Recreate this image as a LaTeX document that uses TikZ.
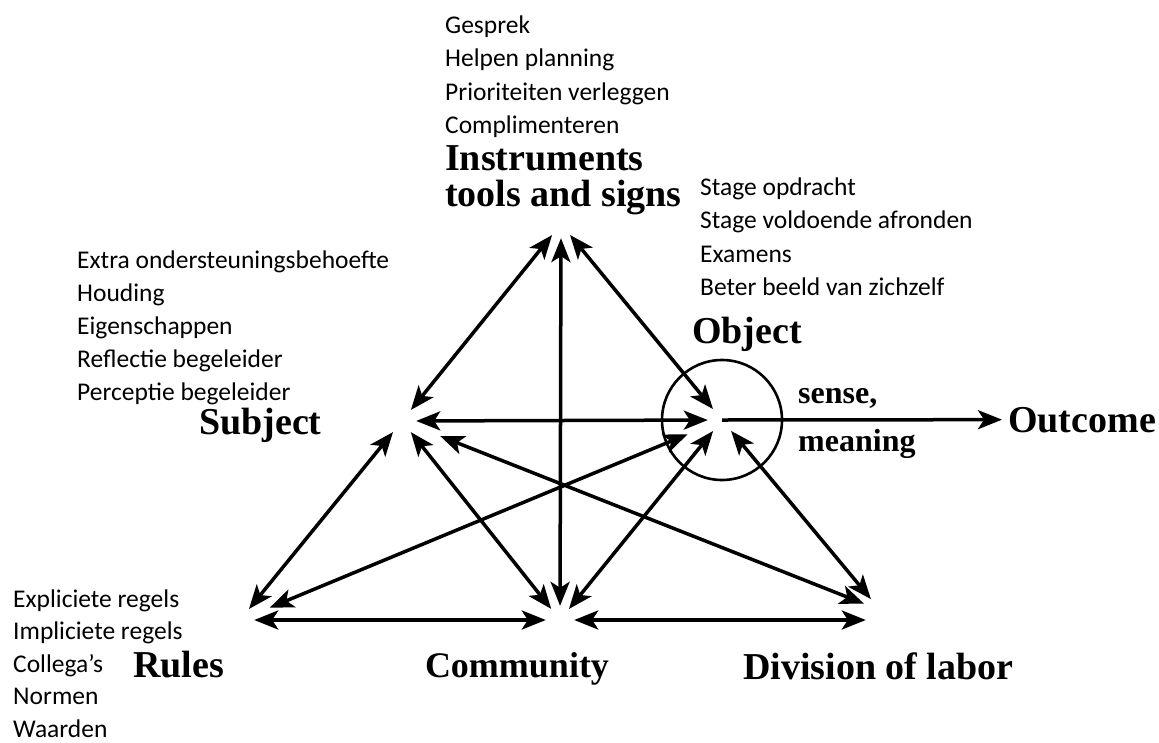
\documentclass[tikz,border=0pt]{standalone}
\usepackage{fontspec}
\setmainfont{Liberation Serif}
\newfontfamily\notefont{Carlito}
\usetikzlibrary{arrows.meta}

\tikzset{
  >={Stealth[length=24pt,width=19pt,inset=6pt]},
  link/.style={<->, line width=3.5pt},
  vertex/.style={circle, minimum size=28pt, inner sep=0pt},
  heading/.style={font=\fontsize{38}{32}\selectfont\bfseries, inner sep=0pt},
  notes/.style={font=\notefont\fontsize{25.5}{30}\selectfont, inner sep=0pt, anchor=base west}
}

\begin{document}
\begin{tikzpicture}[x=1pt,y=-1pt]
        \useasboundingbox (0,0) rectangle (1159,742);

        % Corners of the triangle
        \node[vertex] (I) at (561,224) {};
        \node[vertex] (S) at (402,421) {};
        \node[vertex] (O) at (722,420) {};
        \node[vertex] (R) at (240,620) {};
        \node[vertex] (C) at (560,620) {};
        \node[vertex] (D) at (880,610) {};

        % Headings
        \node[heading, anchor=base west] (instr) at (445,170) {Instruments};
        \node[heading, anchor=base west] (tools) at (445,206) {tools and signs};
        \node[heading, anchor=base west] (subj) at (199,434) {Subject};
        \node[heading, anchor=base west] (obj) at (692,343) {Object};
        \node[heading, anchor=base west, font=\fontsize{32}{32}\selectfont\bfseries] (sense) at (798,403) {sense,};
        \node[heading, anchor=base west, font=\fontsize{32}{32}\selectfont\bfseries] (mean) at (798,451) {meaning};
        \node[heading, anchor=base west] (out) at (1008,432) {Outcome};
        \node[heading, anchor=base west] (rules) at (133,677) {Rules};
        \node[heading, anchor=base, font=\fontsize{36}{32}\selectfont\bfseries] (comm) at (517,677) {Community};
        \node[heading, anchor=base west] (div) at (743,679) {Division of labor};

        % Notes
        \foreach \t [count=\i] in {Gesprek, Helpen planning, Prioriteiten verleggen, Complimenteren}
            \node[notes] (tool\i) at (445, {33+33.5*(\i-1)}) {\t};
        \foreach \t [count=\i] in {Stage opdracht, Stage voldoende afronden, Examens, Beter beeld van zichzelf}
            \node[notes] (goal\i) at (700, {195+33.5*(\i-1)}) {\t};
        \foreach \t [count=\i] in {Extra ondersteuningsbehoefte, Houding, Eigenschappen, Reflectie begeleider, Perceptie begeleider}
            \node[notes] (self\i) at (77, {268+33*(\i-1)}) {\t};
        \foreach \t [count=\i] in {Expliciete regels, Impliciete regels, Collega’s, Normen, Waarden}
            \node[notes] (rule\i) at (13, {607+32.6*(\i-1)}) {\t};

        % Circle round the object
        \draw[line width=2.6pt] (O.center) circle[radius=60pt];

        % Links
        \draw[link] (S) -- (I);
        \draw[link] (I) -- (O);
        \draw[link] (I) -- (C);
        \draw[link] (S) -- (O);
        \draw[link] (S) -- (R);
        \draw[link] (S) -- (C);
        \draw[link, shorten <=27pt, shorten >=3pt] (S) -- (D);
        \draw[link, shorten <=23pt, shorten >=18pt] (O) -- (R);
        \draw[link] (O) -- (C);
        \draw[link] (O) -- (D);
        \draw[link] (R) -- (C);
        \draw[link] (C) -- (C -| D.west);
        \draw[->, line width=3.5pt, shorten >=6pt] (O.center) -- (out.west);

\end{tikzpicture}
\end{document}
